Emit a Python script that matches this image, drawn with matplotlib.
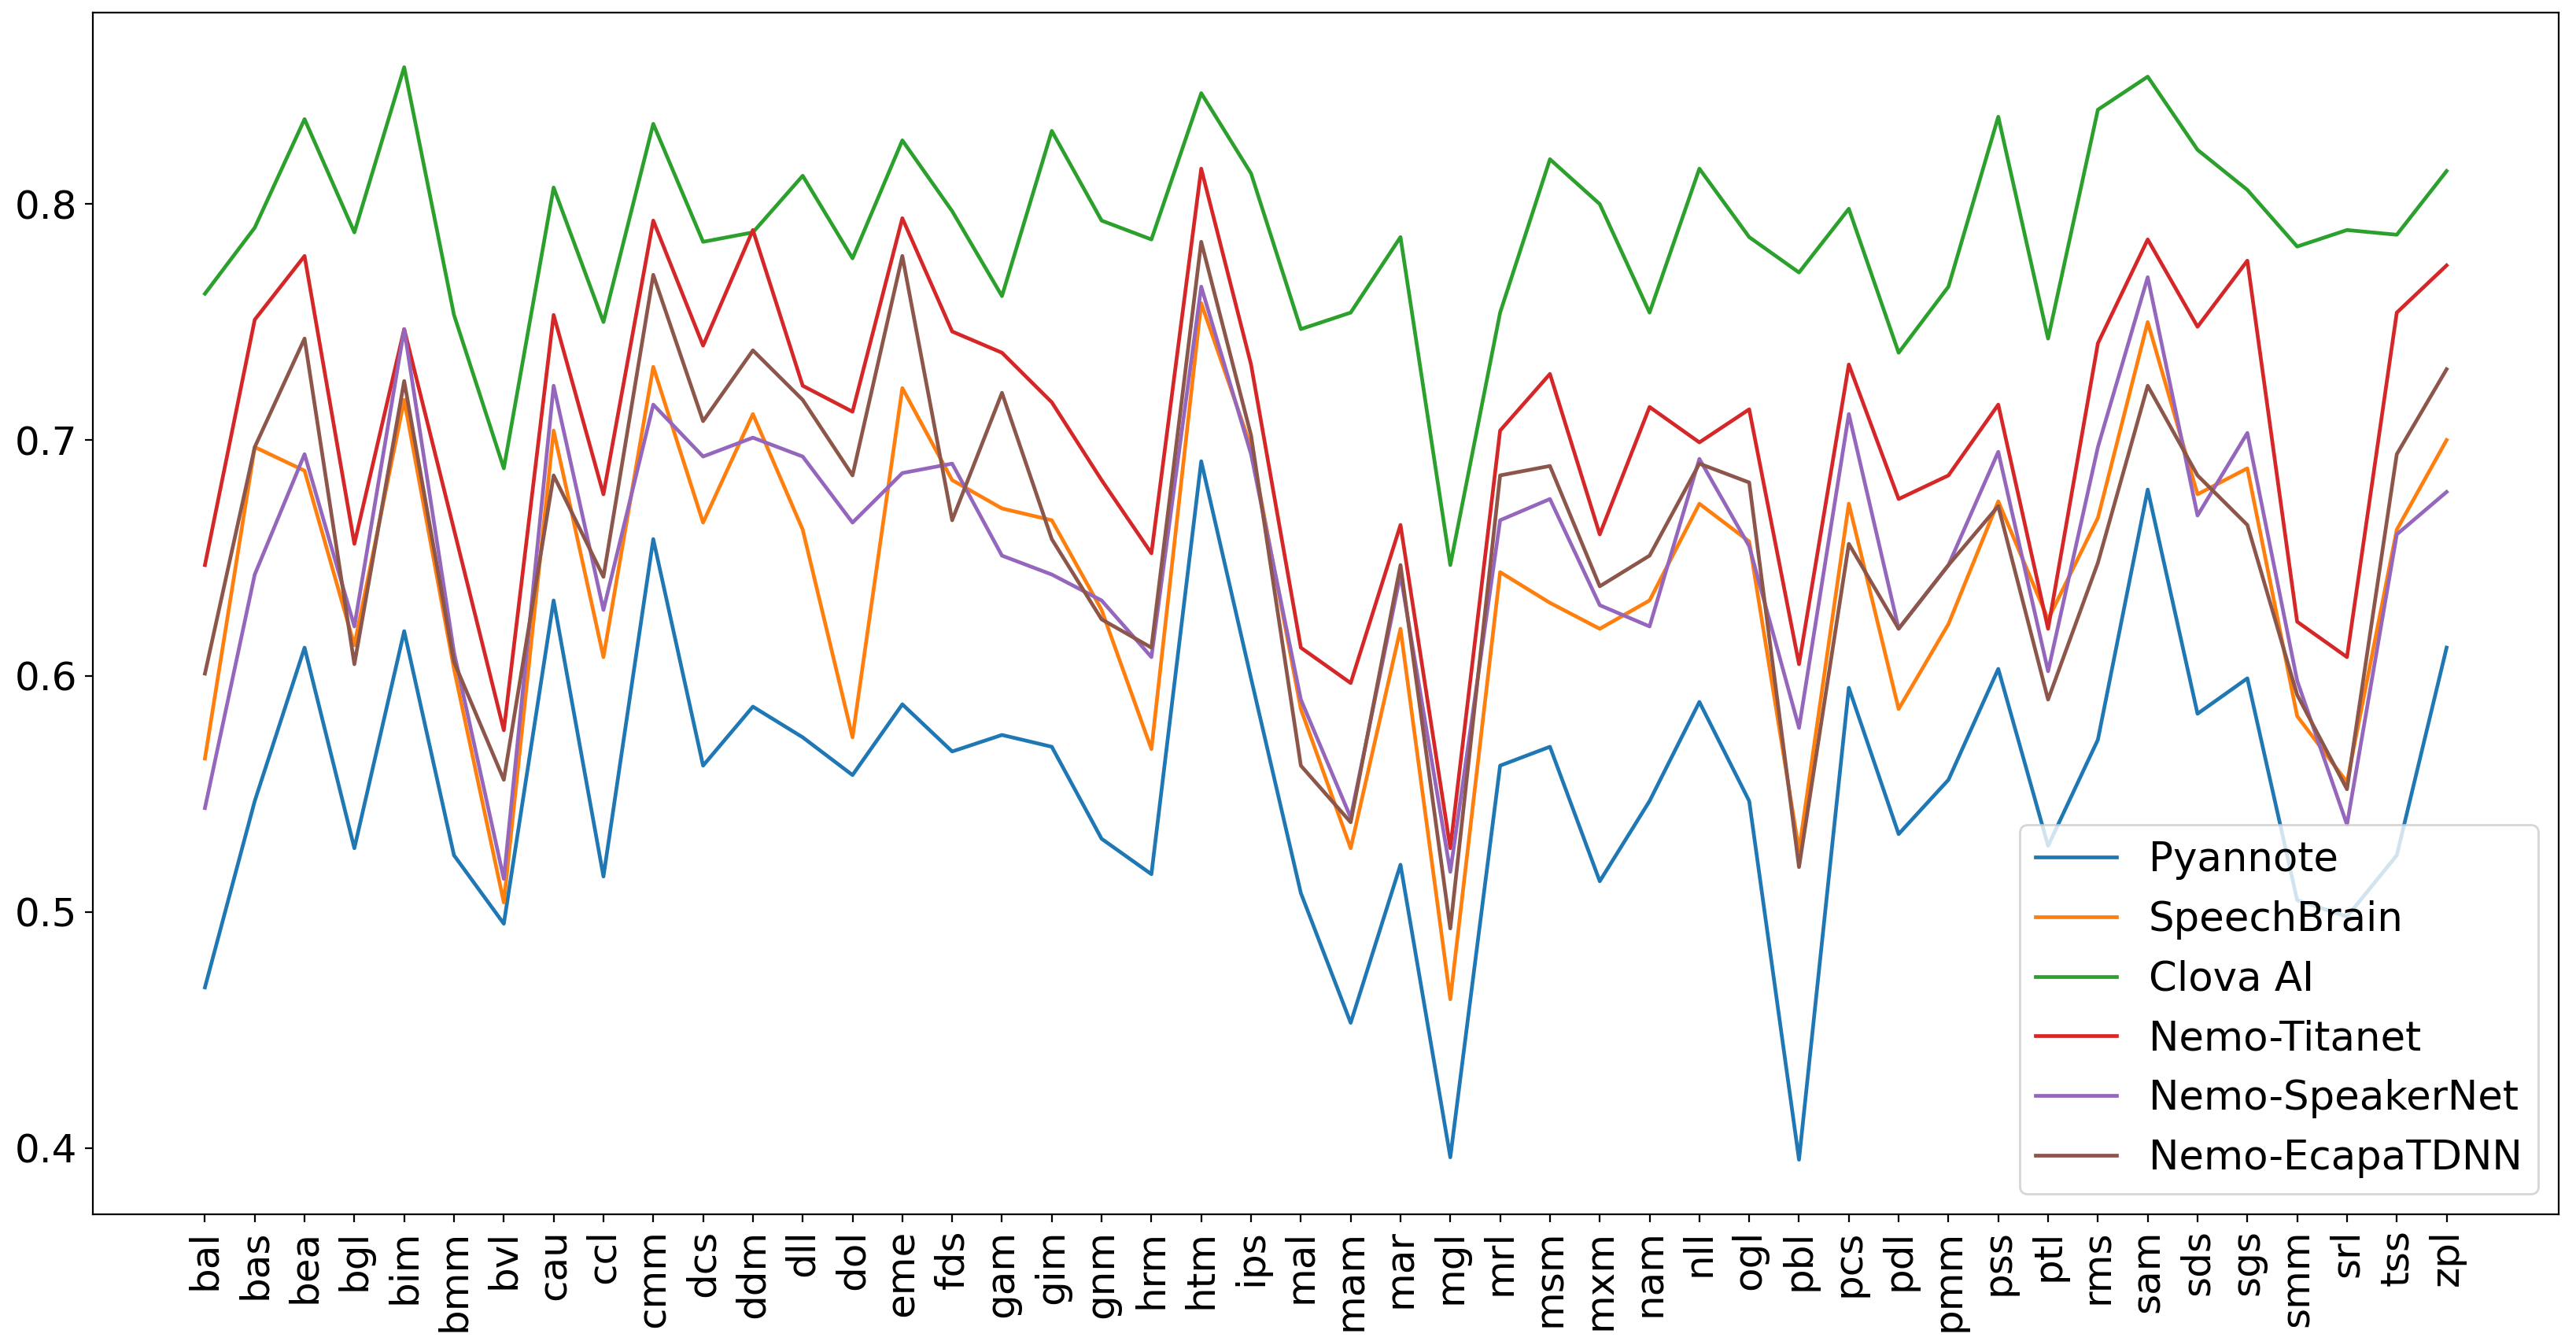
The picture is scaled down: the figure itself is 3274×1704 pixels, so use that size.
import matplotlib
matplotlib.use("Agg")
import matplotlib.pyplot as plt

categories = ["bal", "bas", "bea", "bgl", "bim", "bmm", "bvl", "cau", "ccl", "cmm",
              "dcs", "ddm", "dll", "dol", "eme", "fds", "gam", "gim", "gnm", "hrm",
              "htm", "ips", "mal", "mam", "mar", "mgl", "mrl", "msm", "mxm", "nam",
              "nll", "ogl", "pbl", "pcs", "pdl", "pmm", "pss", "ptl", "rms", "sam",
              "sds", "sgs", "smm", "srl", "tss", "zpl"]

pyannote = [0.468, 0.547, 0.612, 0.527, 0.619, 0.524, 0.495, 0.632, 0.515, 0.658,
            0.562, 0.587, 0.574, 0.558, 0.588, 0.568, 0.575, 0.570, 0.531, 0.516,
            0.691, 0.599, 0.508, 0.453, 0.520, 0.396, 0.562, 0.570, 0.513, 0.547,
            0.589, 0.547, 0.395, 0.595, 0.533, 0.556, 0.603, 0.528, 0.573, 0.679,
            0.584, 0.599, 0.505, 0.498, 0.524, 0.612]

speechbrain = [0.565, 0.697, 0.687, 0.613, 0.717, 0.603, 0.504, 0.704, 0.608, 0.731,
               0.665, 0.711, 0.662, 0.574, 0.722, 0.683, 0.671, 0.666, 0.628, 0.569,
               0.758, 0.697, 0.586, 0.527, 0.620, 0.463, 0.644, 0.631, 0.620, 0.632,
               0.673, 0.657, 0.526, 0.673, 0.586, 0.622, 0.674, 0.624, 0.667, 0.750,
               0.677, 0.688, 0.583, 0.555, 0.662, 0.700]

clova = [0.762, 0.790, 0.836, 0.788, 0.858, 0.753, 0.688, 0.807, 0.750, 0.834,
         0.784, 0.788, 0.812, 0.777, 0.827, 0.797, 0.761, 0.831, 0.793, 0.785,
         0.847, 0.813, 0.747, 0.754, 0.786, 0.647, 0.754, 0.819, 0.800, 0.754,
         0.815, 0.786, 0.771, 0.798, 0.737, 0.765, 0.837, 0.743, 0.840, 0.854,
         0.823, 0.806, 0.782, 0.789, 0.787, 0.814]

titanet = [0.647, 0.751, 0.778, 0.656, 0.747, 0.662, 0.577, 0.753, 0.677, 0.793,
           0.740, 0.789, 0.723, 0.712, 0.794, 0.746, 0.737, 0.716, 0.683, 0.652,
           0.815, 0.732, 0.612, 0.597, 0.664, 0.527, 0.704, 0.728, 0.660, 0.714,
           0.699, 0.713, 0.605, 0.732, 0.675, 0.685, 0.715, 0.620, 0.741, 0.785,
           0.748, 0.776, 0.623, 0.608, 0.754, 0.774]

speakernet = [0.544, 0.643, 0.694, 0.621, 0.747, 0.610, 0.514, 0.723, 0.628, 0.715,
              0.693, 0.701, 0.693, 0.665, 0.686, 0.690, 0.651, 0.643, 0.632, 0.608,
              0.765, 0.694, 0.590, 0.540, 0.643, 0.517, 0.666, 0.675, 0.630, 0.621,
              0.692, 0.655, 0.578, 0.711, 0.620, 0.647, 0.695, 0.602, 0.697, 0.769,
              0.668, 0.703, 0.598, 0.537, 0.660, 0.678]

ecapa = [0.601, 0.697, 0.743, 0.605, 0.725, 0.606, 0.556, 0.685, 0.642, 0.770,
         0.708, 0.738, 0.717, 0.685, 0.778, 0.666, 0.720, 0.658, 0.624, 0.612,
         0.784, 0.702, 0.562, 0.538, 0.647, 0.493, 0.685, 0.689, 0.638, 0.651,
         0.690, 0.682, 0.519, 0.656, 0.620, 0.647, 0.672, 0.590, 0.648, 0.723,
         0.685, 0.664, 0.592, 0.552, 0.694, 0.730]

series_names = ["Pyannote", "SpeechBrain", "Clova AI", "Nemo-Titanet",
                "Nemo-SpeakerNet", "Nemo-EcapaTDNN"]
series_values = [pyannote, speechbrain, clova, titanet, speakernet, ecapa]

DPI = 200
fig = plt.figure(figsize=(3274 / DPI, 1704 / DPI), dpi=DPI)
ax = fig.add_axes([118 / 3274, 1 - 1543 / 1704, (3252 - 118) / 3274, (1543 - 16) / 1704])

for name, vals in zip(series_names, series_values):
    ax.plot(categories, vals, label=name, linewidth=1.7)

ax.tick_params(axis="both", labelsize=18)
ax.tick_params(axis="x", labelrotation=90)
ax.set_yticks([0.4, 0.5, 0.6, 0.7, 0.8])
ax.legend(loc="lower right", fontsize=18.5)

fig.savefig("out.png", dpi=DPI)
